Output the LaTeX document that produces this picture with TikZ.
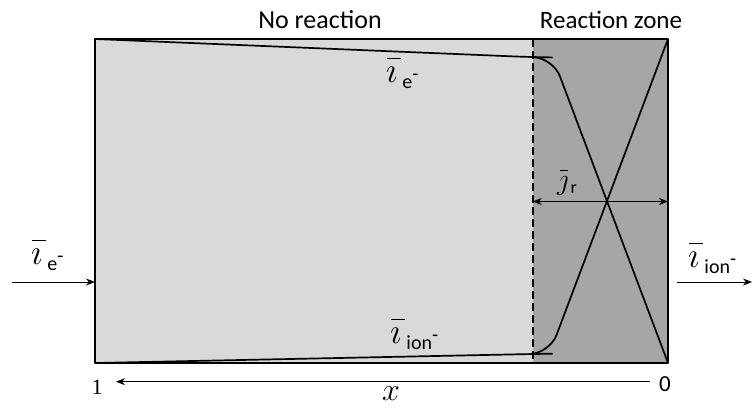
\RequirePackage{fix-cm}
\documentclass[tikz,border=0pt]{standalone}
\usepackage{fontspec}
\setmainfont{Carlito}
\newfontfamily\serifnum{Liberation Serif}
\usetikzlibrary{arrows.meta}
\definecolor{lightzone}{HTML}{D9D9D9}
\definecolor{darkzone}{HTML}{A6A6A6}
\newcommand{\ibar}{{\fontsize{36}{36}\selectfont\rlap{\kern1pt\raisebox{23pt}{\rule{14pt}{1.4pt}}}$\imath$}}
\newcommand{\curlab}[1]{\ibar\kern5pt\raisebox{-6pt}{\fontsize{20}{20}\selectfont #1\raisebox{8pt}{\fontsize{20}{20}\selectfont -}}}
\tikzset{
  titletext/.style={font=\fontsize{26}{30}\selectfont, inner sep=0pt, anchor=base},
  lab/.style={inner sep=0pt},
  curve/.style={line width=1.7pt, rounded corners=20pt},
  flow/.style={line width=1pt, -{Stealth[length=9pt,width=7pt]}},
}
\begin{document}
\begin{tikzpicture}[x=1pt,y=-1pt]
\useasboundingbox (0,0) rectangle (752,408);
% zones
\fill[lightzone] (95,39) rectangle (532.7,363);
\fill[darkzone] (532.7,39) rectangle (668,363);
\coordinate (TL) at (95,39);
\coordinate (TR) at (668,39);
\coordinate (BL) at (95,363);
\coordinate (BR) at (668,363);
\coordinate (DT) at (532.7,39);
\coordinate (DB) at (532.7,363);
\draw[line width=1.8pt, dash pattern=on 8pt off 4pt] (DT) -- (DB);
% curves
\draw[curve] (TL) -- (532.7,57.2) -- (552.8,57.4) -- (BR);
\draw[curve] (BL) -- (532.7,354) -- (549.5,353.7) -- (TR);
% frame
\draw[line width=2.8pt, line join=round] (TL) rectangle (BR);
% reaction arrow
\coordinate (JL) at (532.7,201.5);
\coordinate (JR) at (668,201.5);
\draw[line width=1pt, {Stealth[length=9pt,width=7pt]}-{Stealth[length=9pt,width=7pt]}] (JL) -- (JR);
\node[lab, anchor=base west] (jr) at (557,189) {{\fontsize{30}{30}\selectfont\rlap{\kern3pt\raisebox{18pt}{\rule{8pt}{1.4pt}}}$\jmath$}\kern2pt\raisebox{-4pt}{\fontsize{18}{18}\selectfont r}};
% titles
\node[titletext] (nr) at (320,28) {No reaction};
\node[titletext, font=\fontsize{25}{30}\selectfont] (rz) at (611,28) {Reaction zone};
% inside labels
\node[lab, anchor=base west] (ie) at (386,82) {\curlab{e}};
\node[lab, anchor=base west] (iion) at (390,343) {\curlab{ion}};
% in/out arrows
\coordinate (inL) at (12,282);
\coordinate (inR) at (95,282);
\coordinate (outL) at (677,282);
\coordinate (outR) at (752,282);
\draw[flow] (inL) -- (inR);
\draw[flow] (outL) -- (outR);
\node[lab, anchor=base west] (iein) at (31,264) {\curlab{e}};
\node[lab, anchor=base west] (iout) at (688,267) {\curlab{ion}};
% axis
\coordinate (ax0) at (650,381.7);
\coordinate (ax1) at (116,381.7);
\draw[flow] (ax0) -- (ax1);
\node[lab, font=\fontsize{22}{22}\selectfont\serifnum] (one) at (97,387.5) {1};
\node[lab, font=\fontsize{23}{23}\selectfont] (zero) at (665,384.5) {0};
\node[lab] (xlab) at (391,394) {\fontsize{32}{32}\selectfont$x$};
\end{tikzpicture}
\end{document}
